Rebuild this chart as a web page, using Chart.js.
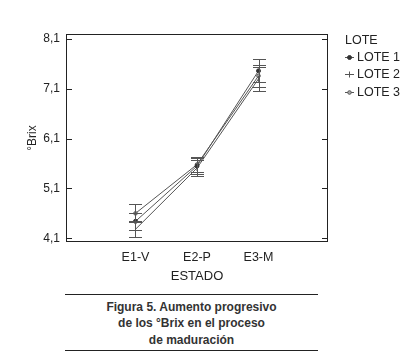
<!DOCTYPE html>
<html lang="es">
<head>
<meta charset="UTF-8" />
<title>Figura 5 - °Brix</title>
<script src="https://cdn.jsdelivr.net/npm/chart.js"></script>
<style>
  body { margin: 0; background: #fff; font-family: 'Liberation Sans', Arial, sans-serif; }
  .fig { position: relative; width: 418px; height: 364px; }
  .chart-box { position: absolute; left: 0; top: 0; width: 418px; height: 290px; }
  .caption {
    position: absolute; left: 65px; top: 294px; width: 253px; height: 57px;
    box-sizing: border-box; border-top: 1px solid #222; border-bottom: 1px solid #222;
    padding-top: 3.5px; text-align: center; font-weight: bold;
    font-size: 12px; line-height: 16.5px; color: #333;
  }
</style>
</head>
<body>
<div class="fig">
  <div class="chart-box"><canvas id="brix"></canvas></div>
  <div class="caption">Figura 5. Aumento progresivo<br>de los °Brix en el proceso<br>de maduración</div>
</div>
<script>
  const estados = ['E1-V', 'E2-P', 'E3-M'];
  const lotes = ['LOTE 1', 'LOTE 2', 'LOTE 3'];
  const lote1 = [4.44, 5.55, 7.46];
  const lote2 = [4.28, 5.51, 7.30];
  const lote3 = [4.60, 5.58, 7.36];
  const err1 = [0.17, 0.16, 0.23];
  const err2 = [0.16, 0.17, 0.24];
  const err3 = [0.18, 0.15, 0.22];
  const yTicks = [4.1, 5.1, 6.1, 7.1, 8.1];

  const fontFam = "'Liberation Sans', Arial, sans-serif";
  Chart.defaults.font.family = fontFam;
  Chart.defaults.color = '#222';

  // error bars, box, inner ticks and legend
  const marco = {
    id: 'marco',
    afterDatasetsDraw(chart) {
      const { ctx, chartArea: a, scales: { x, y } } = chart;
      ctx.save();
      ctx.lineWidth = 1;

      chart.data.datasets.forEach(ds => {
        ctx.strokeStyle = '#555';
        ds.data.forEach((p, j) => {
          const px = Math.round(x.getPixelForValue(p.x)) + 0.5;
          const t = Math.round(y.getPixelForValue(p.y + ds.err[j])) + 0.5;
          const b = Math.round(y.getPixelForValue(p.y - ds.err[j])) + 0.5;
          ctx.beginPath();
          ctx.moveTo(px, t); ctx.lineTo(px, b);
          ctx.moveTo(px - 6.5, t); ctx.lineTo(px + 6.5, t);
          ctx.moveTo(px - 6.5, b); ctx.lineTo(px + 6.5, b);
          ctx.stroke();
        });
      });

      ctx.strokeStyle = '#222';
      ctx.strokeRect(a.left + 0.5, a.top + 0.5, a.right - a.left - 1, a.bottom - a.top - 1);
      ctx.beginPath();
      yTicks.forEach(v => {
        const py = Math.round(y.getPixelForValue(v)) + 0.5;
        ctx.moveTo(a.left, py); ctx.lineTo(a.left + 6, py);
        ctx.moveTo(a.right - 6, py); ctx.lineTo(a.right, py);
      });
      ctx.stroke();

      // legend
      const lx = a.right + 17;
      ctx.fillStyle = '#222';
      ctx.font = '12.5px ' + fontFam;
      ctx.textBaseline = 'middle';
      ctx.textAlign = 'left';
      ctx.fillText('LOTE', lx, 41);
      chart.data.datasets.forEach((ds, i) => {
        const ly = Math.round(56.5 + i * 17.5) + 0.5;
        ctx.strokeStyle = ds.borderColor;
        ctx.beginPath();
        ctx.moveTo(lx, ly); ctx.lineTo(lx + 9, ly);
        ctx.stroke();
        ctx.fillStyle = ds.pointBackgroundColor;
        ctx.strokeStyle = ds.pointBorderColor;
        Chart.helpers.drawPoint(ctx, {
          pointStyle: ds.pointStyle, radius: ds.pointRadius,
          rotation: ds.pointRotation || 0, borderWidth: 1
        }, lx + 4.5, ly);
        ctx.fillStyle = '#222';
        ctx.fillText(ds.label, lx + 12, ly);
      });
      ctx.restore();
    }
  };

  function serie(label, vals, errs, style) {
    return Object.assign({
      label: label,
      data: vals.map((v, i) => ({ x: i + 1, y: v })),
      err: errs,
      borderColor: '#555',
      borderWidth: 1,
      tension: 0
    }, style);
  }

  new Chart(document.getElementById('brix'), {
    type: 'line',
    data: {
      datasets: [
        serie(lotes[0], lote1, err1, { pointStyle: 'circle', pointRadius: 2, pointBackgroundColor: '#333', pointBorderColor: '#333' }),
        serie(lotes[1], lote2, err2, { pointStyle: 'line', pointRotation: 90, pointRadius: 3, pointBackgroundColor: '#555', pointBorderColor: '#555' }),
        serie(lotes[2], lote3, err3, { pointStyle: 'circle', pointRadius: 1.8, pointBackgroundColor: '#aaa', pointBorderColor: '#555' })
      ]
    },
    options: {
      responsive: true,
      maintainAspectRatio: false,
      animation: false,
      layout: { padding: { top: 34, right: 90, left: 0, bottom: 0 } },
      plugins: { legend: { display: false }, tooltip: { enabled: false } },
      scales: {
        x: {
          type: 'linear', min: -0.13, max: 4.13,
          afterBuildTicks: s => { s.ticks = estados.map((e, i) => ({ value: i + 1 })); },
          afterFit: s => { s.height = 48; },
          grid: { display: false, drawTicks: false },
          border: { display: false },
          ticks: { padding: 8, font: { size: 12.5 }, maxRotation: 0, autoSkip: false,
                   callback: v => estados[v - 1] ?? '' },
          title: { display: true, text: 'ESTADO', font: { size: 13 }, padding: { top: 0, bottom: 6 } }
        },
        y: {
          min: 4.025, max: 8.2,
          afterBuildTicks: s => { s.ticks = yTicks.map(v => ({ value: v })); },
          afterFit: s => { s.width = 66; },
          grid: { display: false, drawTicks: false },
          border: { display: false },
          ticks: { padding: 6, font: { size: 12 }, callback: v => v.toFixed(1).replace('.', ',') },
          title: { display: true, text: '°Brix', font: { size: 12 }, padding: { top: 25, bottom: 0 } }
        }
      }
    },
    plugins: [marco]
  });
</script>
</body>
</html>
